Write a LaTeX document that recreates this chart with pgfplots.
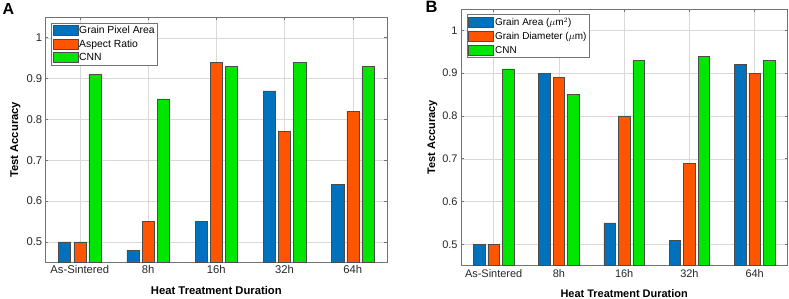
\documentclass[border=0pt]{standalone}
\usepackage{pgfplots}
\pgfplotsset{compat=1.18}
\usepackage{fontspec}
\setmainfont{Liberation Sans}
\definecolor{cblue}{RGB}{0,114,189}
\definecolor{corange}{RGB}{255,85,0}
\definecolor{cgreen}{RGB}{0,230,0}
\pgfplotsset{
  mybar/.style={ybar, bar width=0.1778, draw=black!70, line width=0.5pt, fill=#1,
    legend image code/.code={\draw[##1] (0bp,-5bp) rectangle (25bp,5bp);}},
  mypanel/.style={
    anchor=south west, scale only axis,
    xmin=0.5, xmax=5.5, ymin=0.45, ymax=1.05,
    xtick={1,2,3,4,5}, xticklabels={As-Sintered,8h,16h,32h,64h},
    ytick={0.5,0.6,0.7,0.8,0.9,1},
    /pgf/number format/assume math mode=true,
    grid=major, major grid style={black!15, line width=0.4pt},
    axis line style={black!55, line width=0.6pt},
    tick style={black!55, line width=0.5pt}, major tick length=2.5bp,
    tick align=inside,
    ticklabel style={text=black!85},
    legend cell align=left,
    xlabel={\bfseries Heat Treatment Duration},
    ylabel={\bfseries Test Accuracy},
  }
}
\begin{document}
\begin{tikzpicture}
\path[use as bounding box] (0,0) rectangle (789bp,299bp);
\begin{axis}[mypanel,
  at={(45.7bp,36.7bp)}, width=341.3bp, height=245bp,
  tick label style={font=\fontsize{11.3}{13}\selectfont},
  label style={font=\fontsize{11.3}{13}\selectfont},
  xlabel style={at={([yshift=-28.2bp]rel axis cs:0.5,0)}, anchor=center},
  ylabel style={at={([xshift=-30.2bp]rel axis cs:0,0.5)}, anchor=center},
  legend style={at={(rel axis cs:0,1)}, anchor=north west, xshift=5.3bp, yshift=-5.4bp,
    draw=black!55, line width=0.5pt, inner xsep=1.5bp, inner ysep=2bp, row sep=2.6bp,
    font=\fontsize{10.4}{12}\selectfont, nodes={inner sep=1bp}},
]
\addplot[mybar=cblue, bar shift=-0.2222] coordinates {(1,0.50) (2,0.48) (3,0.55) (4,0.87) (5,0.64)};
\addplot[mybar=corange, bar shift=0] coordinates {(1,0.50) (2,0.55) (3,0.94) (4,0.77) (5,0.82)};
\addplot[mybar=cgreen, bar shift=0.2222] coordinates {(1,0.91) (2,0.85) (3,0.93) (4,0.94) (5,0.93)};
\legend{Grain Pixel Area, Aspect Ratio, CNN}
\end{axis}
\begin{axis}[mypanel,
  at={(461bp,33.3bp)}, width=326.3bp, height=256.7bp,
  tick label style={font=\fontsize{11}{13}\selectfont},
  label style={font=\fontsize{11}{13}\selectfont},
  xlabel style={at={([yshift=-27.6bp]rel axis cs:0.5,0)}, anchor=center},
  ylabel style={at={([xshift=-28.5bp]rel axis cs:0,0.5)}, anchor=center},
  legend style={at={(rel axis cs:0,1)}, anchor=north west, xshift=5.7bp, yshift=-5.3bp,
    draw=black!55, line width=0.5pt, inner xsep=1.5bp, inner ysep=2bp, row sep=2.6bp,
    font=\fontsize{10}{12}\selectfont, nodes={inner sep=1.2bp}},
]
\addplot[mybar=cblue, bar shift=-0.2222] coordinates {(1,0.50) (2,0.90) (3,0.55) (4,0.51) (5,0.92)};
\addplot[mybar=corange, bar shift=0] coordinates {(1,0.50) (2,0.89) (3,0.80) (4,0.69) (5,0.90)};
\addplot[mybar=cgreen, bar shift=0.2222] coordinates {(1,0.91) (2,0.85) (3,0.93) (4,0.94) (5,0.93)};
\legend{Grain Area ($\mu$m$^2$), Grain Diameter ($\mu$m), CNN}
\end{axis}
\node[anchor=north west, inner sep=0pt, font=\fontsize{16}{18}\selectfont\bfseries] at (2.5bp,296bp) {A};
\node[anchor=north west, inner sep=0pt, font=\fontsize{16.5}{18}\selectfont\bfseries] at (425.5bp,298bp) {B};
\end{tikzpicture}
\end{document}
